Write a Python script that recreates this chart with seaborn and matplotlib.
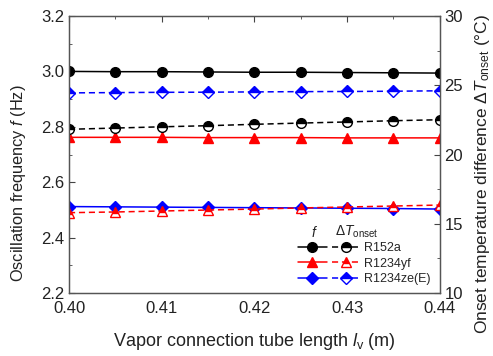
import numpy as np
import pandas as pd
import matplotlib
matplotlib.use("Agg")
import matplotlib.pyplot as plt
import seaborn as sns
from matplotlib.ticker import MultipleLocator
from matplotlib.markers import MarkerStyle
from matplotlib.legend_handler import HandlerTuple

length = [0.400, 0.405, 0.410, 0.415, 0.420, 0.425, 0.430, 0.435, 0.440]

f_r152a = [3.000, 2.999, 2.999, 2.998, 2.997, 2.997, 2.996, 2.995, 2.994]
f_r1234yf = [2.762, 2.762, 2.762, 2.761, 2.761, 2.761, 2.760, 2.760, 2.760]
f_r1234ze = [2.512, 2.511, 2.510, 2.509, 2.508, 2.507, 2.506, 2.505, 2.503]

dt_r152a = [21.82, 21.91, 22.00, 22.08, 22.18, 22.27, 22.35, 22.44, 22.51]
dt_r1234yf = [15.80, 15.85, 15.92, 15.99, 16.06, 16.14, 16.21, 16.28, 16.35]
dt_r1234ze = [24.45, 24.47, 24.49, 24.50, 24.52, 24.54, 24.55, 24.57, 24.60]

refrigerants = ["R152a", "R1234yf", "R1234ze(E)"]
colors = ["black", "red", "blue"]
markers = ["o", "^", "D"]
msizes = [7, 7.5, 6.5]

sns.set_style("white")
plt.rcParams["font.family"] = ["Liberation Sans", "DejaVu Sans"]
plt.rcParams["mathtext.fontset"] = "custom"
plt.rcParams["mathtext.rm"] = "Liberation Sans"
plt.rcParams["mathtext.it"] = "Liberation Sans:italic"

fig, ax = plt.subplots(figsize=(4.93, 3.56), dpi=100)
fig.subplots_adjust(left=0.140, right=0.892, top=0.955, bottom=0.177)
ax2 = ax.twinx()

solid = []
dashed = []
for fv, dv, c, m, ms in zip([f_r152a, f_r1234yf, f_r1234ze],
                            [dt_r152a, dt_r1234yf, dt_r1234ze],
                            colors, markers, msizes):
    # oscillation frequency: solid line, filled marker
    sns.lineplot(x=length, y=fv, ax=ax, color=c, marker=m, markersize=ms,
                 markeredgecolor=c, markerfacecolor=c, markeredgewidth=1,
                 linewidth=1.1, legend=False)
    solid.append(ax.lines[-1])
    # onset temperature difference: dashed line, half-filled marker
    sns.lineplot(x=length, y=dv, ax=ax2, color=c,
                 marker=MarkerStyle(m, fillstyle="top"), markersize=ms,
                 markeredgecolor=c, markerfacecolor=c,
                 markerfacecoloralt="white", markeredgewidth=1,
                 linewidth=1.1, linestyle=(0, (4, 2.5)), legend=False)
    dashed.append(ax2.lines[-1])

ax.set_xlim(0.40, 0.44)
ax.set_ylim(2.2, 3.2)
ax2.set_ylim(10, 30)
ax.xaxis.set_minor_locator(MultipleLocator(0.005))
ax.yaxis.set_minor_locator(MultipleLocator(0.1))
ax2.yaxis.set_major_locator(MultipleLocator(5))
ax2.yaxis.set_minor_locator(MultipleLocator(2.5))
ax.set_xticks(length[::2])
ax.set_xticklabels(["0.40", "0.41", "0.42", "0.43", "0.44"])
ax.set_yticks([2.2, 2.4, 2.6, 2.8, 3.0, 3.2])
ax.set_yticklabels(["2.2", "2.4", "2.6", "2.8", "3.0", "3.2"])

for a in (ax, ax2):
    a.tick_params(which="both", direction="in", labelsize=12, colors="#444444",
                  labelcolor="#222222")
    a.tick_params(which="major", length=4)
    a.tick_params(which="minor", length=2.5)
    for s in a.spines.values():
        s.set_color("#555555")
        s.set_linewidth(0.9)
ax.tick_params(axis="x", which="both", top=True, pad=6)
ax.tick_params(axis="y", which="both", right=False)

ax.set_xlabel("Vapor connection tube length $\\mathit{l}_{\\rm v}$ (m)",
              fontsize=13, color="#222222")
ax.xaxis.set_label_coords(0.5, -0.137)
ax.set_ylabel("Oscillation frequency $\\mathit{f}$ (Hz)", fontsize=11.8,
              color="#222222")
ax.yaxis.set_label_coords(-0.11, 0.395)
ax2.set_ylabel("Onset temperature difference $\\Delta \\mathit{T}_{\\rm onset}$ (°C)",
               fontsize=12.5, color="#222222")
ax2.yaxis.set_label_coords(1.089, 0.43)

handles = [(s, d) for s, d in zip(solid, dashed)]
leg = ax.legend(handles, refrigerants,
                handler_map={tuple: HandlerTuple(ndivide=None, pad=0.4)},
                loc="upper left", bbox_to_anchor=(0.617, 0.183),
                borderaxespad=0, borderpad=0,
                frameon=False, fontsize=9, handlelength=5.0,
                handletextpad=0.32, labelspacing=0.28)
ax.text(0.663, 0.22, "$\\mathit{f}$", transform=ax.transAxes,
        fontsize=10, ha="center", va="center", color="#222222")
ax.text(0.717, 0.22, "$\\Delta \\mathit{T}_{\\rm onset}$",
        transform=ax.transAxes, fontsize=10, ha="left", va="center",
        color="#222222")

fig.savefig("out.png", dpi=100)
